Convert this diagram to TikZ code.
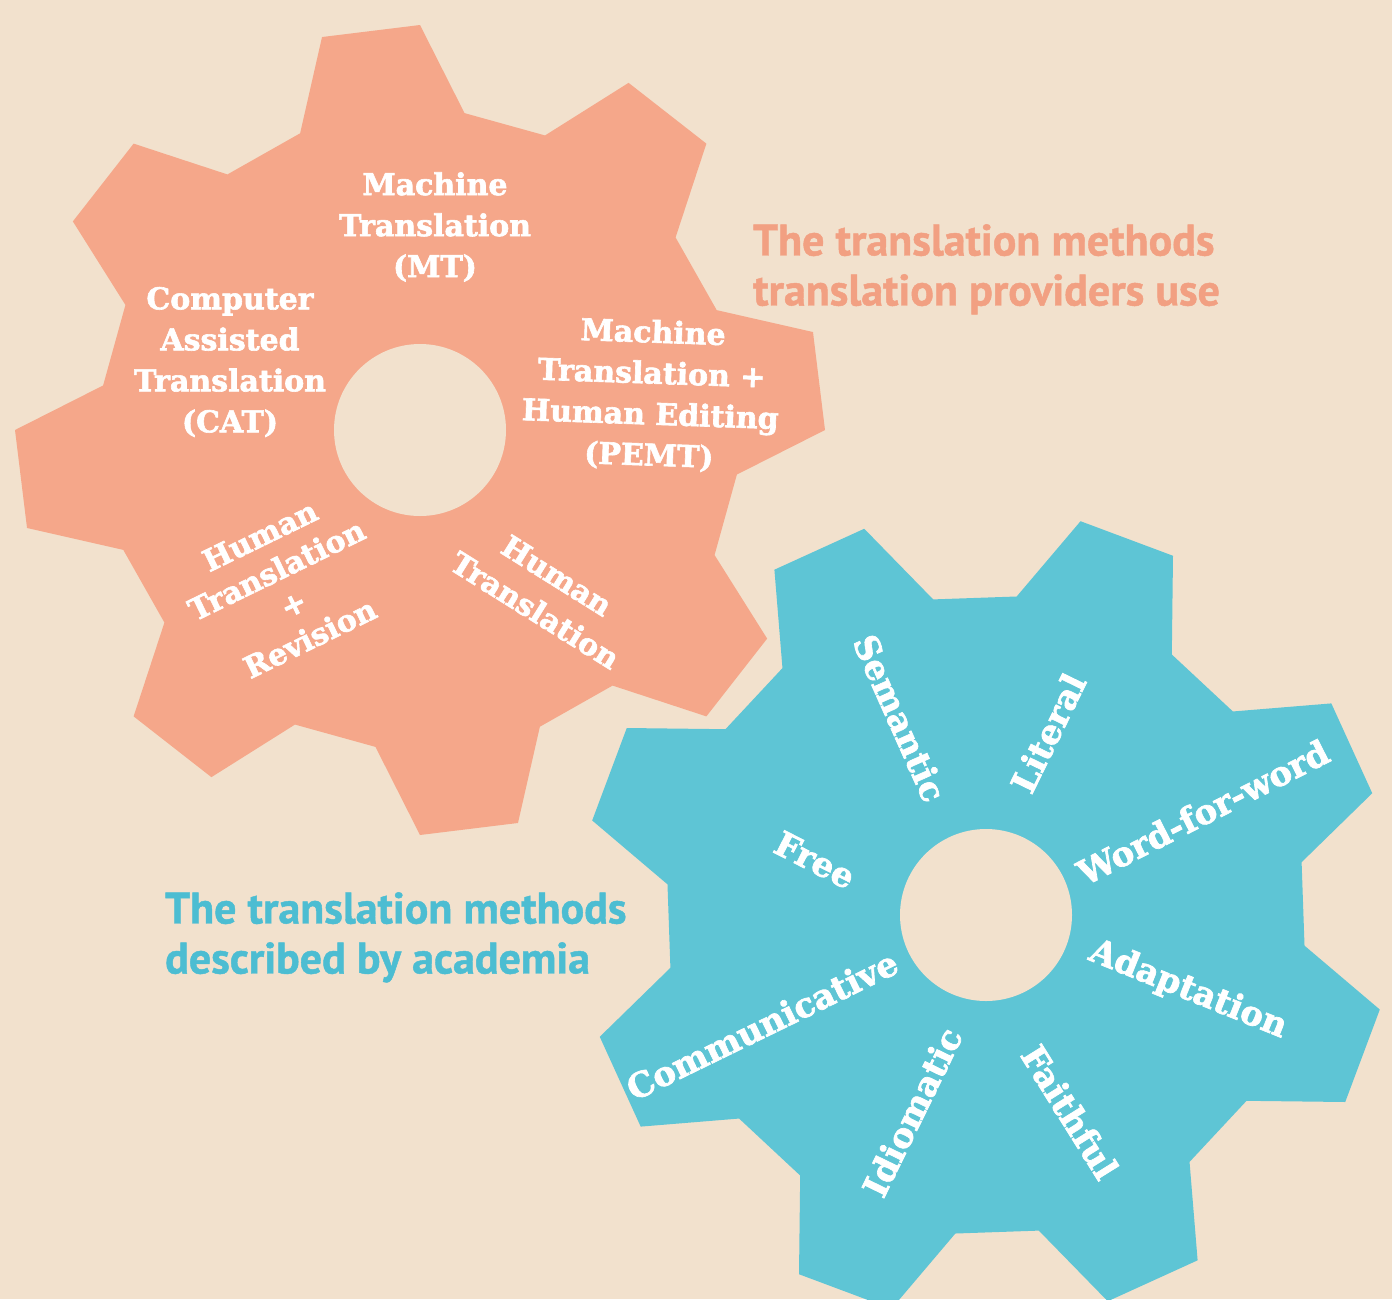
\documentclass[tikz,border=0pt]{standalone}
\usepackage{fontspec}
\newfontfamily\gearfont{DejaVu Serif}[BoldFeatures={FakeBold=2}]
\newfontfamily\titlefont{PT Sans}[BoldFeatures={FakeBold=1}]
\definecolor{bgc}{RGB}{242,225,205}
\definecolor{gearO}{RGB}{245,167,138}
\definecolor{gearB}{RGB}{94,197,213}
\definecolor{titO}{RGB}{242,160,130}
\definecolor{titB}{RGB}{76,189,210}
\tikzset{
  otext/.style={text=white,font=\gearfont\bfseries\fontsize{30}{41}\selectfont,align=center,inner sep=0pt},
  btext/.style={text=white,font=\gearfont\bfseries\fontsize{34}{38}\selectfont,inner sep=0pt},
  ttext/.style={font=\titlefont\bfseries\fontsize{44}{50}\selectfont,align=left,inner sep=0pt,anchor=north west},
}
\begin{document}
\begin{tikzpicture}[x=1pt,y=-1pt]
\useasboundingbox (0,0) rectangle (1392,1299);
\fill[bgc] (0,0) rectangle (1392,1299);
\begin{scope}
\clip (0,0) rectangle (1392,1299);
% orange gear
\begin{scope}[shift={(420,430)}]
\fill[gearO] ({-(97-15)}:320)
  \foreach \k [evaluate=\k as \a using 97+45*\k] in {0,...,7} {
    -- ({-(\a-15)}:320) -- ({-(\a-7)}:405) -- ({-(\a+7)}:405) -- ({-(\a+15)}:320)
  } -- cycle;
\fill[bgc] (0,0) circle[radius=86];
\end{scope}
% blue gear
\begin{scope}[shift={(986,915)}]
\fill[gearB] ({-(69.5-15)}:320)
  \foreach \k [evaluate=\k as \a using 69.5+45*\k] in {0,...,7} {
    -- ({-(\a-15)}:320) -- ({-(\a-7)}:405) -- ({-(\a+7)}:405) -- ({-(\a+15)}:320)
  } -- cycle;
\fill[bgc] (0,0) circle[radius=86];
\end{scope}
\end{scope}
% orange gear labels
\node[otext] (mt) at (435,227) {Machine\\Translation\\(MT)};
\node[otext] (cat) at (230,362) {Computer\\Assisted\\Translation\\(CAT)};
\node[otext,rotate=-2] (pemt) at (651,395) {Machine\\Translation +\\Human Editing\\(PEMT)};
\node[otext,rotate=26,font=\gearfont\bfseries\fontsize{30}{38}\selectfont] (htr) at (285,587) {Human\\Translation\\+\\Revision};
\node[otext,rotate=-32] (ht) at (546,593) {Human\\Translation};
% blue gear labels
\node[btext,rotate=-66] (sem) at (900,718) {Semantic};
\node[btext,rotate=64] (lit) at (1048,733) {Literal};
\node[btext,rotate=27] (wfw) at (1203,812) {Word-for-word};
\node[btext,rotate=-22] (ada) at (1188,990) {Adaptation};
\node[btext,rotate=-58] (fai) at (1070,1112) {Faithful};
\node[btext,rotate=64] (idi) at (912,1112) {Idiomatic};
\node[btext,rotate=26] (com) at (762,1025) {Communicative};
\node[btext,rotate=-27] (fre) at (815,860) {Free};
% titles
\node[ttext,text=titO] (tO) at (753,224) {The translation methods\\translation providers use};
\node[ttext,text=titB] (tB) at (165,892) {The translation methods\\described by academia};
\end{tikzpicture}
\end{document}
